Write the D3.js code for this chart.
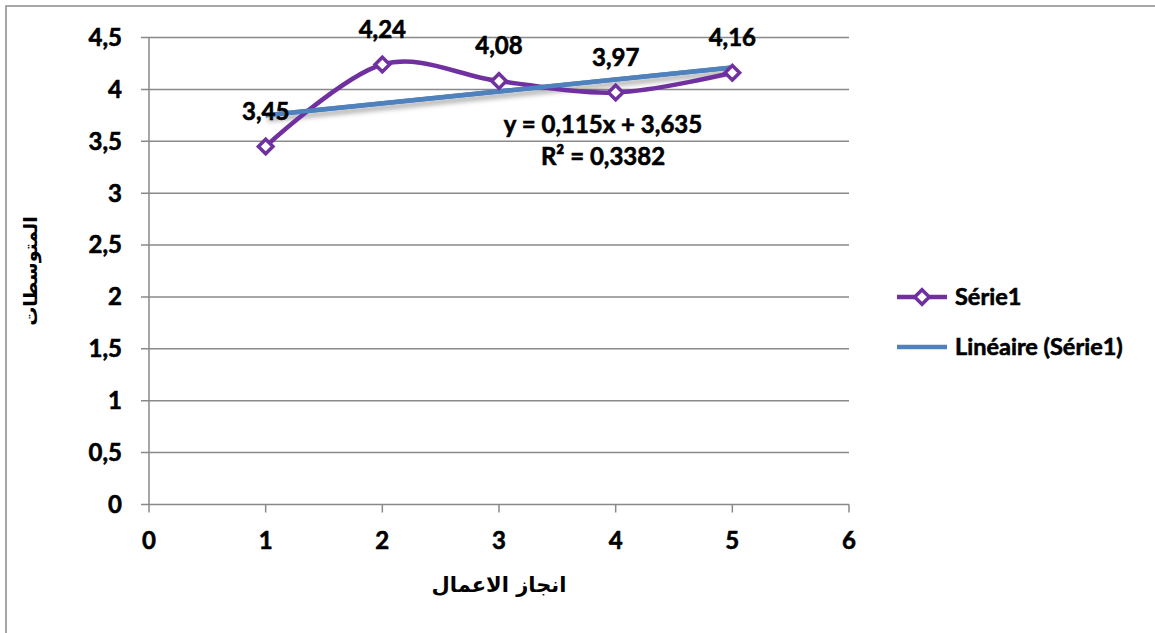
<!DOCTYPE html>
<html>
<head>
<meta charset="utf-8">
<script src="https://cdn.jsdelivr.net/npm/d3@7"></script>
<style>
  html, body { margin: 0; padding: 0; background: #fff; }
  svg { display: block; }
  .num { font-family: Lato, "Open Sans", sans-serif; font-weight: 700; fill: #000; stroke: #000; stroke-width: 0.6px; }
  .ar { font-family: "DejaVu Sans", sans-serif; font-weight: 700; fill: #000; }
</style>
</head>
<body>
<svg id="chart" width="1155" height="633"></svg>
<script>
// Series data
const xValues = [1, 2, 3, 4, 5];
const yValues = [3.45, 4.24, 4.08, 3.97, 4.16];
const valueLabels = ["3,45", "4,24", "4,08", "3,97", "4,16"];

// Linear trend: y = 0.115x + 3.635
const trendSlope = 0.115;
const trendIntercept = 3.635;
const trendText = ["y = 0,115x + 3,635", "R² = 0,3382"];

// Axis ticks
const xTicks = [0, 1, 2, 3, 4, 5, 6];
const yTicks = [0, 0.5, 1, 1.5, 2, 2.5, 3, 3.5, 4, 4.5];

const xTitle = "انجاز الاعمال";
const yTitle = "المتوسطات";
const legendNames = ["Série1", "Linéaire (Série1)"];

const purple = "#7030A0";
const blue = "#4F81BD";
const grid = "#898989";

const svg = d3.select("#chart");

// Outer frame
svg.append("rect")
  .attr("x", 6).attr("y", 6).attr("width", 1160).attr("height", 640)
  .attr("fill", "none").attr("stroke", "#8a8a8a").attr("stroke-width", 1.5);

const x = d3.scaleLinear().domain([0, 6]).range([149, 849]);
const y = d3.scaleLinear().domain([0, 4.5]).range([504.5, 37.5]);

const fmt = d => String(d).replace(".", ",");

// Shadow under the trend line
const defs = svg.append("defs");
const shadow = defs.append("filter").attr("id", "shadow")
  .attr("x", "-10%").attr("y", "-200%").attr("width", "120%").attr("height", "500%");
shadow.append("feDropShadow")
  .attr("dx", 2).attr("dy", 4).attr("stdDeviation", 2.5)
  .attr("flood-color", "#000").attr("flood-opacity", 0.35);

// Horizontal gridlines with left ticks
svg.append("g")
  .selectAll("line")
  .data(yTicks)
  .join("line")
  .attr("x1", 141).attr("x2", 849)
  .attr("y1", d => y(d)).attr("y2", d => y(d))
  .attr("stroke", grid).attr("stroke-width", 1.5);

// Y axis line
svg.append("line")
  .attr("x1", 149).attr("x2", 149)
  .attr("y1", y(4.5)).attr("y2", y(0))
  .attr("stroke", grid).attr("stroke-width", 1.5);

// X axis ticks
svg.append("g")
  .selectAll("line")
  .data(xTicks)
  .join("line")
  .attr("x1", d => x(d)).attr("x2", d => x(d))
  .attr("y1", y(0)).attr("y2", y(0) + 8)
  .attr("stroke", grid).attr("stroke-width", 1.5);

// Y tick labels
svg.append("g")
  .selectAll("text")
  .data(yTicks)
  .join("text")
  .attr("class", "num")
  .attr("x", 122)
  .attr("y", d => y(d))
  .attr("dy", "0.35em")
  .attr("text-anchor", "end")
  .attr("font-size", 24)
  .text(fmt);

// X tick labels
svg.append("g")
  .selectAll("text")
  .data(xTicks)
  .join("text")
  .attr("class", "num")
  .attr("x", d => x(d))
  .attr("y", 541)
  .attr("dy", "0.35em")
  .attr("text-anchor", "middle")
  .attr("font-size", 24)
  .text(d => d);

// Axis titles
svg.append("text")
  .attr("class", "ar")
  .attr("x", x(3)).attr("y", 585)
  .attr("dy", "0.35em")
  .attr("text-anchor", "middle")
  .attr("font-size", 21)
  .text(xTitle);

svg.append("text")
  .attr("class", "ar")
  .attr("transform", `translate(30, ${(y(0) + y(4.5)) / 2}) rotate(-90)`)
  .attr("dy", "0.35em")
  .attr("text-anchor", "middle")
  .attr("font-size", 19)
  .text(yTitle);

// Data series, smoothed
const pts = xValues.map((v, i) => [v, yValues[i]]);
const line = d3.line()
  .x(d => x(d[0])).y(d => y(d[1]))
  .curve(d3.curveCatmullRom.alpha(0));

// Trend line
const trendPts = [xValues[0], xValues[xValues.length - 1]]
  .map(v => [v, trendSlope * v + trendIntercept]);

svg.append("path")
  .attr("d", d3.line().x(d => x(d[0])).y(d => y(d[1]))(trendPts))
  .attr("fill", "none").attr("stroke", blue).attr("stroke-width", 4.5)
  .attr("filter", "url(#shadow)");

svg.append("path")
  .attr("d", line(pts))
  .attr("fill", "none").attr("stroke", purple).attr("stroke-width", 4.5);

// Trend line drawn again above the series where they cross
svg.append("path")
  .attr("d", d3.line().x(d => x(d[0])).y(d => y(d[1]))(trendPts))
  .attr("fill", "none").attr("stroke", blue).attr("stroke-width", 4.5);

// Diamond markers
const diamond = d3.symbol().type(d3.symbolDiamond2).size(135);
svg.append("g")
  .selectAll("path")
  .data(pts)
  .join("path")
  .attr("d", diamond)
  .attr("transform", d => `translate(${x(d[0])},${y(d[1])})`)
  .attr("fill", "#fff").attr("stroke", purple).attr("stroke-width", 3.5);

// Value labels
svg.append("g")
  .selectAll("text")
  .data(pts)
  .join("text")
  .attr("class", "num")
  .attr("x", d => x(d[0]))
  .attr("y", d => y(d[1]) - 35)
  .attr("dy", "0.35em")
  .attr("text-anchor", "middle")
  .attr("font-size", 24)
  .text((d, i) => valueLabels[i]);

// Trend equation
svg.append("g")
  .selectAll("text")
  .data(trendText)
  .join("text")
  .attr("class", "num")
  .attr("x", 603)
  .attr("y", (d, i) => 125 + i * 32)
  .attr("dy", "0.35em")
  .attr("text-anchor", "middle")
  .attr("font-size", 24)
  .text(d => d);

// Legend
const lg = svg.append("g");
lg.append("line")
  .attr("x1", 897).attr("x2", 947).attr("y1", 297).attr("y2", 297)
  .attr("stroke", purple).attr("stroke-width", 4.5);
lg.append("path")
  .attr("d", diamond)
  .attr("transform", "translate(922,297)")
  .attr("fill", "#fff").attr("stroke", purple).attr("stroke-width", 3.5);
lg.append("line")
  .attr("x1", 897).attr("x2", 947).attr("y1", 347).attr("y2", 347)
  .attr("stroke", blue).attr("stroke-width", 4.5);
lg.selectAll("text")
  .data(legendNames)
  .join("text")
  .attr("class", "num")
  .attr("x", 955)
  .attr("y", (d, i) => 297 + i * 50)
  .attr("dy", "0.35em")
  .attr("font-size", 23.5)
  .text(d => d);
</script>
</body>
</html>
